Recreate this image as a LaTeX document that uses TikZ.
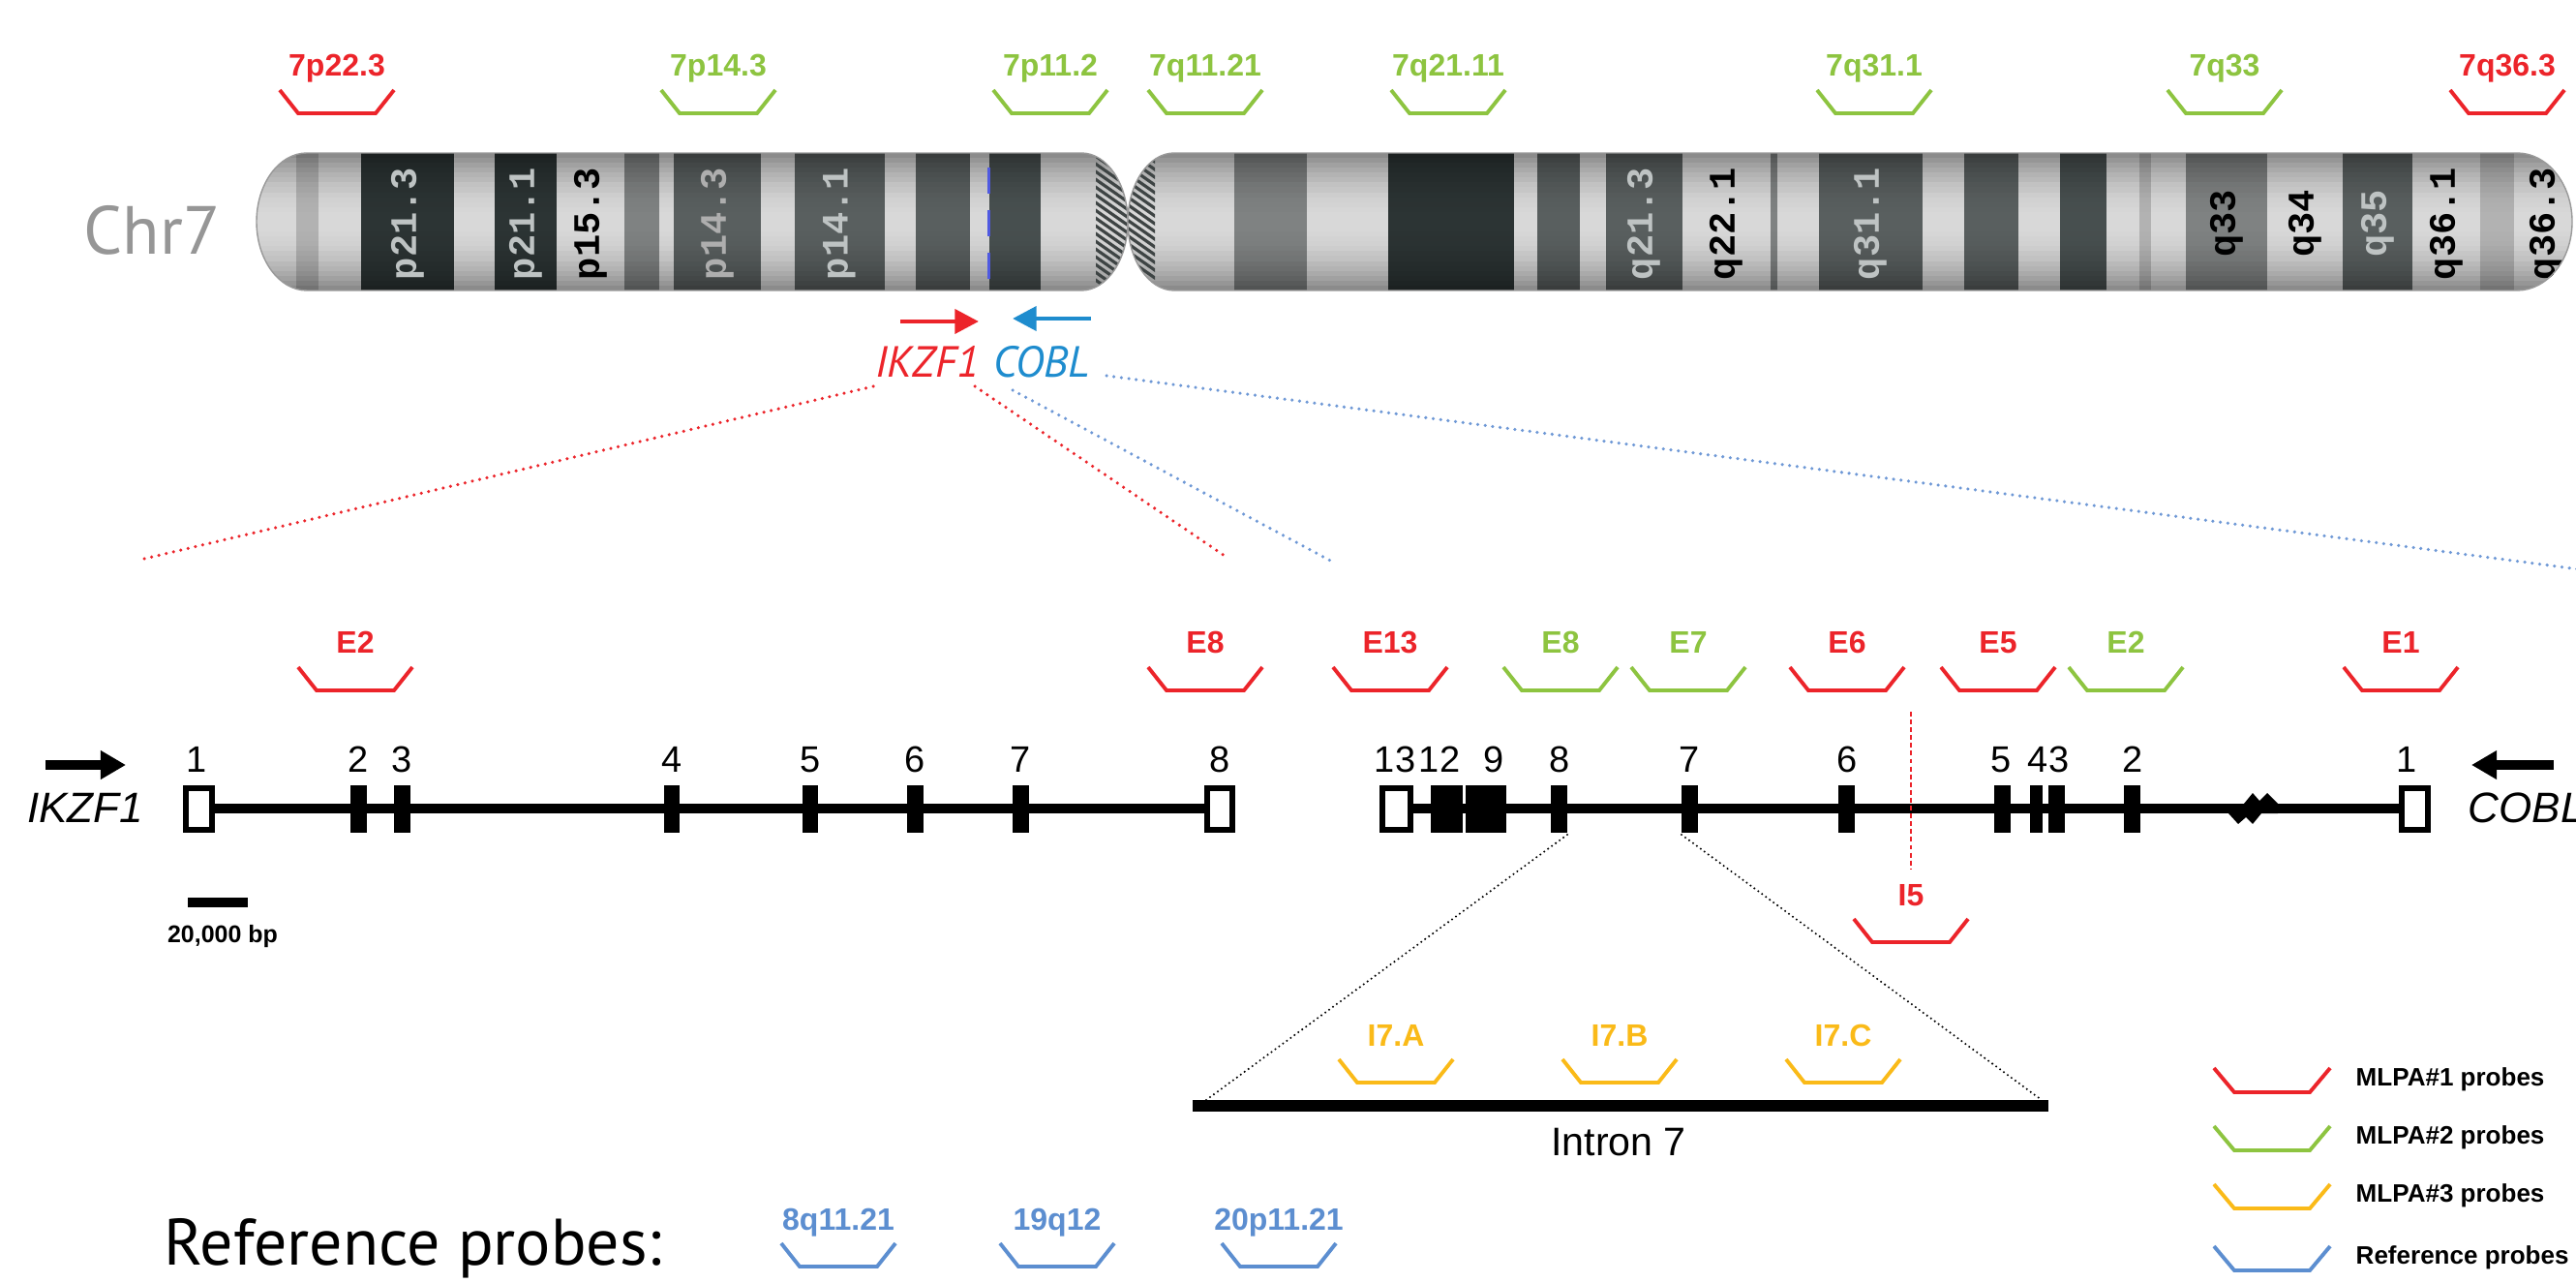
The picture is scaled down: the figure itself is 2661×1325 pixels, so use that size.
\documentclass[tikz,border=0pt]{standalone}
\usepackage{fontspec}
\setmainfont{Liberation Sans}
\newfontfamily\humanist{PT Sans}
\newfontfamily\bandfont{Liberation Mono}
\usetikzlibrary{calc,arrows.meta}

% probe colours
\definecolor{mred}{RGB}{236,36,42}
\definecolor{mgreen}{RGB}{141,196,64}
\definecolor{myellow}{RGB}{250,186,24}
\definecolor{mblue}{RGB}{92,142,208}
\definecolor{coblblue}{RGB}{30,140,206}
\definecolor{dotblue}{RGB}{110,152,214}
\definecolor{chrgray}{RGB}{150,150,150}
% chromosome band colours
\definecolor{gneg}{RGB}{218,218,218}
\definecolor{gpos25}{RGB}{180,180,180}
\definecolor{gpos50}{RGB}{128,131,131}
\definecolor{gpos75}{RGB}{90,96,96}
\definecolor{gpos90}{RGB}{72,80,80}
\definecolor{gpos100}{RGB}{44,52,52}
\definecolor{lbllight}{RGB}{190,195,195}
\definecolor{hatch}{RGB}{62,68,68}
\definecolor{dashblue}{RGB}{80,90,225}

\tikzset{
  probetext/.style={anchor=base, inner sep=0pt, font=\fontsize{9.1}{10}\selectfont\bfseries},
  probeline/.style={line width=1.1pt, line join=miter},
  exonnum/.style={anchor=base, inner sep=0pt, font=\fontsize{10.8}{12}\selectfont},
  bandlbl/.style={rotate=90, inner sep=0pt, font=\fontsize{11}{12}\selectfont\bandfont\bfseries},
  track/.style={line width=2.85pt},
  openexon/.style={line width=1.7pt, fill=white},
  reddots/.style={mred, line width=1pt, line cap=round, dash pattern=on 0pt off 2.2pt},
  bluedots/.style={dotblue, line width=1pt, line cap=round, dash pattern=on 0pt off 2.2pt},
  blackdots/.style={black, line width=0.65pt, line cap=round, dash pattern=on 0pt off 1.4pt},
  hatchline/.style={draw=hatch, line width=0.9pt},
  legendtext/.style={anchor=west, inner sep=0pt, font=\fontsize{7.4}{9}\selectfont\bfseries},
  sidegene/.style={inner sep=0pt, font=\fontsize{12.5}{14}\selectfont\itshape},
  fatarrow/.style={line width=2.8pt, -{Triangle[length=7.4pt,width=8pt]}},
  thinarrow/.style={line width=1.4pt, -{Triangle[length=7pt,width=7pt]}},
}

% a labelled probe: name, x, baseline y, colour, text
\newcommand\probe[5]{%
  \node[probetext, text=#4] (#1) at (#2,#3) {#5};
  \draw[probeline, draw=#4] (#1.base) ++(-59,14) -- ++(19,24) -- ++(80,0) -- ++(19,-24);
}
% a legend row: name, centre y, colour, text
\newcommand\legendrow[4]{%
  \draw[probeline, draw=#3] (2287,#2-12) -- ++(21,25) -- ++(78,0) -- ++(21,-25);
  \node[legendtext] (#1) at (2433,#2) {#4};
}
% a chromosome band, darkened towards its upper and lower edges
% so that the arm looks round: left x, right x, colour
\newcommand\band[3]{%
  \foreach \i in {0,...,27}{%
    \pgfmathsetmacro\t{abs((\i+0.5)/28-0.5)*2}%
    \pgfmathtruncatemacro\p{100-38*\t*\t}%
    \fill[#3!\p!black] (#1,{158+\i*142/28}) rectangle (#2,{158+(\i+1)*142/28+0.6});%
  }%
}
% exons: name, left x, right x
\newcommand\exonfill[3]{\fill (#2,811) rectangle (#3,860); \coordinate (#1) at ({(#2+#3)/2},860);}
\newcommand\exonopen[3]{\draw[openexon] (#2+3,814) rectangle (#3-3,857); \coordinate (#1) at ({(#2+#3)/2},860);}

% outlines of the two chromosome arms
\def\parm{(317,158) -- (1117,158) arc[start angle=-90, end angle=90, x radius=48, y radius=71] -- (317,300) arc[start angle=90, end angle=270, x radius=52, y radius=71] -- cycle}
\def\qarm{(1213,158) -- (2600,158) arc[start angle=-90, end angle=90, x radius=57, y radius=71] -- (1213,300) arc[start angle=90, end angle=270, x radius=48, y radius=71] -- cycle}

\begin{document}
\begin{tikzpicture}[x=0.01cm, y=-0.01cm]
\useasboundingbox (0,0) rectangle (2661,1325);
\fill[white] (0,0) rectangle (2661,1325);

% ---------------- chromosome 7 ideogram ----------------
\node[anchor=base west, inner sep=0pt, text=chrgray,
      font=\fontsize{20}{22}\selectfont\humanist] (chr) at (86,263) {Chr7};

\begin{scope}
  \clip \parm;
  \band{250}{1170}{gneg}
  \band{306}{329}{gpos25}
  \band{373}{469}{gpos100}
  \band{511}{575}{gpos100}
  \band{645}{681}{gpos50}
  \band{696}{786}{gpos75}
  \band{821}{914}{gpos75}
  \band{946}{1002}{gpos75}
  \band{1022}{1075}{gpos90}
  \draw[dashblue, line width=0.85pt, dash pattern=on 7.7pt off 4.8pt] (1021,173) -- (1021,300);
  \begin{scope}
    \clip (1132,150) rectangle (1170,310);
    \foreach \k in {0,...,32} \draw[hatchline] (1090,60+8*\k) -- ++(90,63);
  \end{scope}
  \node[bandlbl, text=lbllight] (p213) at (421,231) {p21.3};
  \node[bandlbl, text=lbllight] (p211) at (543,231) {p21.1};
  \node[bandlbl, text=black]    (p153) at (610,231) {p15.3};
  \node[bandlbl, text=gneg!80!black] (p143) at (741,231) {p14.3};
  \node[bandlbl, text=lbllight] (p141) at (867,231) {p14.1};
\end{scope}
\draw[gray!80, line width=0.4pt] \parm;

\begin{scope}
  \clip \qarm;
  \band{1160}{2670}{gneg}
  \band{1275}{1350}{gpos50}
  \band{1434}{1564}{gpos100}
  \band{1588}{1632}{gpos75}
  \band{1659}{1738}{gpos75}
  \band{1829}{1836}{gpos50}
  \band{1879}{1986}{gpos75}
  \band{2029}{2085}{gpos75}
  \band{2128}{2176}{gpos90}
  \band{2210}{2222}{gpos25}
  \band{2258}{2342}{gpos50}
  \band{2420}{2492}{gpos75}
  \band{2562}{2597}{gpos25}
  \begin{scope}
    \clip (1160,150) rectangle (1193,310);
    \foreach \k in {0,...,32} \draw[hatchline] (1120,60+8*\k) -- ++(90,63);
  \end{scope}
  \node[bandlbl, text=lbllight] (q213) at (1698,231) {q21.3};
  \node[bandlbl, text=black]    (q221) at (1783,231) {q22.1};
  \node[bandlbl, text=lbllight] (q311) at (1932,231) {q31.1};
  \node[bandlbl, text=black]    (q33)  at (2300,231) {q33};
  \node[bandlbl, text=black]    (q34)  at (2381,231) {q34};
  \node[bandlbl, text=lbllight] (q35)  at (2456,231) {q35};
  \node[bandlbl, text=black]    (q361) at (2527,231) {q36.1};
  \node[bandlbl, text=black]    (q363) at (2630,231) {q36.3};
\end{scope}
\draw[gray!80, line width=0.4pt] \qarm;

% probes along the chromosome
\probe{c1}{348}{79}{mred}{7p22.3}
\probe{c2}{742}{79}{mgreen}{7p14.3}
\probe{c3}{1085}{79}{mgreen}{7p11.2}
\probe{c4}{1245}{79}{mgreen}{7q11.21}
\probe{c5}{1496}{79}{mgreen}{7q21.11}
\probe{c6}{1936}{79}{mgreen}{7q31.1}
\probe{c7}{2298}{79}{mgreen}{7q33}
\probe{c8}{2590}{79}{mred}{7q36.3}

% gene orientation on the chromosome
\coordinate (ra1) at (930,332);  \coordinate (ra2) at (1011,332);
\coordinate (ba1) at (1127,329); \coordinate (ba2) at (1046,329);
\draw[thinarrow, mred] (ra1) -- (ra2);
\draw[thinarrow, coblblue] (ba1) -- (ba2);
\node[anchor=base, inner sep=0pt, text=mred, font=\fontsize{12.8}{14}\selectfont\humanist\itshape] (gik) at (958,390) {IKZF1};
\node[anchor=base, inner sep=0pt, text=coblblue, font=\fontsize{12.8}{14}\selectfont\humanist\itshape] (gcb) at (1076,390) {COBL};

% zoom lines down to the gene maps
\coordinate (ik1) at (902,399);  \coordinate (tl1) at (149,577);
\coordinate (ik2) at (1007,399); \coordinate (tl2) at (1265,574);
\coordinate (cb1) at (1046,403); \coordinate (tl3) at (1378,581);
\coordinate (cb2) at (1143,388); \coordinate (tl4) at (2672,589);
\draw[reddots] (ik1) -- (tl1);
\draw[reddots] (ik2) -- (tl2);
\draw[bluedots] (cb1) -- (tl3);
\draw[bluedots] (cb2) -- (tl4);

% ---------------- IKZF1 exon map ----------------
\coordinate (ikA) at (47,790); \coordinate (ikB) at (130,790);
\draw[fatarrow] (ikA) -- (ikB);
\node[sidegene, anchor=base] (ikname) at (88,849) {IKZF1};
\draw[track] (205,835) -- (1260,835);
\exonopen{ie1}{189}{222}
\exonfill{ie2}{362}{379}
\exonfill{ie3}{407}{424}
\exonfill{ie4}{686}{702}
\exonfill{ie5}{829}{845}
\exonfill{ie6}{937}{954}
\exonfill{ie7}{1046}{1063}
\exonopen{ie8}{1244}{1276}
\node[exonnum] (in1) at (203,797) {1};
\node[exonnum] (in2) at (370,797) {2};
\node[exonnum] (in3) at (415,797) {3};
\node[exonnum] (in4) at (694,797) {4};
\node[exonnum] (in5) at (837,797) {5};
\node[exonnum] (in6) at (945,797) {6};
\node[exonnum] (in7) at (1054,797) {7};
\node[exonnum] (in8) at (1260,797) {8};
\probe{pe2}{367}{675}{mred}{E2}
\probe{pe8}{1245}{675}{mred}{E8}

% scale bar
\fill (194,927) rectangle (256,937);
\node[anchor=base, inner sep=0pt, font=\fontsize{7.1}{8}\selectfont\bfseries] (scale) at (230,973) {20,000 bp};

% ---------------- COBL exon map ----------------
\coordinate (cbA) at (2638,790); \coordinate (cbB) at (2553,790);
\draw[fatarrow] (cbA) -- (cbB);
\node[sidegene, anchor=base west] (cbname) at (2549,849) {COBL};
\draw[track] (1442,835) -- (2495,835);
\exonopen{ce13}{1425}{1460}
\exonfill{ce12}{1478}{1511}
\exonfill{ce9}{1514}{1556}
\exonfill{ce8}{1602}{1619}
\exonfill{ce7}{1737}{1754}
\exonfill{ce6}{1899}{1916}
\exonfill{ce5}{2060}{2077}
\exonfill{ce4}{2097}{2110}
\exonfill{ce3}{2116}{2133}
\exonfill{ce2}{2194}{2211}
\exonopen{ce1}{2478}{2511}
% break in the intron
\fill (2302,830) -- (2318,830) -- (2327,819) -- (2334,827) -- (2342,819) -- (2353,830)
      -- (2353,840) -- (2336,840) -- (2327,851) -- (2320,844) -- (2312,851) -- (2302,840) -- cycle;
\node[exonnum] (cn13) at (1441,797) {13};
\node[exonnum] (cn12) at (1487,797) {12};
\node[exonnum] (cn9)  at (1543,797) {9};
\node[exonnum] (cn8)  at (1611,797) {8};
\node[exonnum] (cn7)  at (1745,797) {7};
\node[exonnum] (cn6)  at (1908,797) {6};
\node[exonnum] (cn5)  at (2067,797) {5};
\node[exonnum] (cn4)  at (2105,797) {4};
\node[exonnum] (cn3)  at (2127,797) {3};
\node[exonnum] (cn2)  at (2203,797) {2};
\node[exonnum] (cn1)  at (2486,797) {1};
\probe{pc13}{1436}{675}{mred}{E13}
\probe{pc8}{1612}{675}{mgreen}{E8}
\probe{pc7}{1744}{675}{mgreen}{E7}
\probe{pc6}{1908}{675}{mred}{E6}
\probe{pc5}{2064}{675}{mred}{E5}
\probe{pc2}{2196}{675}{mgreen}{E2}
\probe{pc1}{2480}{675}{mred}{E1}

% intron 5 probe
\coordinate (i5top) at (1974,735); \coordinate (i5bot) at (1974,897);
\draw[mred, line width=0.7pt, dash pattern=on 1.4pt off 0.9pt] (i5top) -- (i5bot);
\probe{pi5}{1974}{935}{mred}{I5}

% ---------------- intron 7 enlargement ----------------
\coordinate (intL) at (1232,1142); \coordinate (intR) at (2116,1142);
\draw[line width=3.4pt] (intL) -- (intR);
\coordinate (e8c) at (1619,862); \coordinate (e7c) at (1737,862);
\coordinate (zl) at (1246,1136); \coordinate (zr) at (2109,1136);
\draw[blackdots] (e8c) -- (zl);
\draw[blackdots] (e7c) -- (zr);
\node[anchor=base, inner sep=0pt, font=\fontsize{11.7}{13}\selectfont] (intlbl) at (1672,1193) {Intron 7};
\probe{pia}{1442}{1080}{myellow}{I7.A}
\probe{pib}{1673}{1080}{myellow}{I7.B}
\probe{pic}{1904}{1080}{myellow}{I7.C}

% ---------------- reference probes ----------------
\node[anchor=base west, inner sep=0pt, font=\fontsize{19.3}{21}\selectfont\humanist] (reflbl) at (169,1306) {Reference probes:};
\probe{r1}{866}{1270}{mblue}{8q11.21}
\probe{r2}{1092}{1270}{mblue}{19q12}
\probe{r3}{1321}{1270}{mblue}{20p11.21}

% ---------------- legend ----------------
\legendrow{lg1}{1115}{mred}{MLPA\#1 probes}
\legendrow{lg2}{1175}{mgreen}{MLPA\#2 probes}
\legendrow{lg3}{1235}{myellow}{MLPA\#3 probes}
\legendrow{lg4}{1299}{mblue}{Reference probes}
\end{tikzpicture}
\end{document}
